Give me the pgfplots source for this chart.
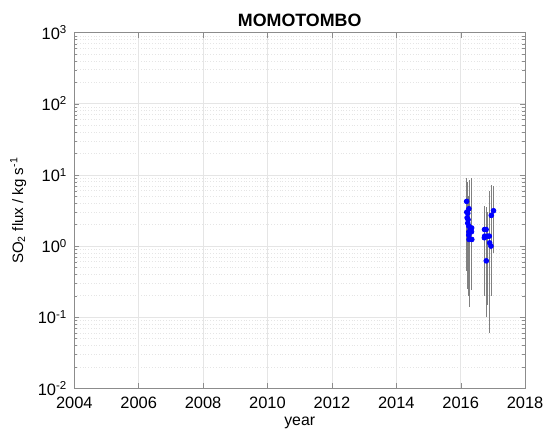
\documentclass[border=0pt]{standalone}
\usepackage{pgfplots}
\pgfplotsset{compat=1.18}
\usepackage{fontspec}
\setmainfont{Liberation Sans}
\definecolor{gridgray}{gray}{0.9}
\definecolor{boxgray}{gray}{0.55}
\definecolor{bargray}{gray}{0.5}
\begin{document}
\begin{tikzpicture}
\begin{axis}[
    name=ax,
    scale only axis,
    width=227.5pt, height=179.5pt,
    font=\fontsize{8.3}{9.5}\selectfont,
    xmin=2004, xmax=2018,
    ymode=log,
    ymin=0.01, ymax=1000,
    xtick={2004,2006,...,2018},
    /pgf/number format/1000 sep={},
    /pgf/number format/assume math mode=true,
    ytick={0.01,0.1,1,10,100,1000},
    yticklabels={10\textsuperscript{-2},10\textsuperscript{-1},10\textsuperscript{0},10\textsuperscript{1},10\textsuperscript{2},10\textsuperscript{3}},
    title={\textbf{MOMOTOMBO}},
    title style={font=\fontsize{9}{10}\selectfont, yshift=-6.5pt},
    xlabel={year},
    ylabel={SO\textsubscript{2} flux / kg s\textsuperscript{-1}},
    xlabel style={font=\fontsize{8}{9}\selectfont, yshift=3pt},
    ylabel style={font=\fontsize{7.6}{8.5}\selectfont, yshift=-1pt},
    tick align=inside,
    major tick length=2.5pt,
    minor tick length=1.5pt,
    axis line style={boxgray},
    tick style={boxgray},
    grid=both,
    xminorgrids=false,
    major grid style={gridgray, line width=0.4pt},
    minor grid style={gridgray, densely dotted, line width=0.4pt},
    xticklabel style={yshift=-1pt},
]
% uncertainty ranges (low, high) as vertical segments
\addplot[bargray, line width=0.3pt, unbounded coords=jump] coordinates {
(2016.185,0.45)(2016.185,9.0)(2016.185,nan)
(2016.255,0.35)(2016.255,8.5)(2016.255,nan)
(2016.19,0.30)(2016.19,7.0)(2016.19,nan)
(2016.22,0.40)(2016.22,8.0)(2016.22,nan)
(2016.20,0.30)(2016.20,6.0)(2016.20,nan)
(2016.23,0.25)(2016.23,5.0)(2016.23,nan)
(2016.22,0.25)(2016.22,6.0)(2016.22,nan)
(2016.255,0.20)(2016.255,5.0)(2016.255,nan)
(2016.34,0.24)(2016.34,9.0)(2016.34,nan)
(2016.255,0.14)(2016.255,5.0)(2016.255,nan)
(2016.335,0.25)(2016.335,6.0)(2016.335,nan)
(2016.25,0.20)(2016.25,4.0)(2016.25,nan)
(2016.26,0.15)(2016.26,4.0)(2016.26,nan)
(2016.345,0.30)(2016.345,4.0)(2016.345,nan)
(2016.74,0.20)(2016.74,3.7)(2016.74,nan)
(2016.79,0.10)(2016.79,3.5)(2016.79,nan)
(2016.745,0.20)(2016.745,3.5)(2016.745,nan)
(2016.84,0.15)(2016.84,3.0)(2016.84,nan)
(2016.735,0.25)(2016.735,3.5)(2016.735,nan)
(2016.795,0.12)(2016.795,3.0)(2016.795,nan)
(2016.89,0.063)(2016.89,5.9)(2016.89,nan)
(2016.90,0.06)(2016.90,6.0)(2016.90,nan)
(2016.94,0.20)(2016.94,3.0)(2016.94,nan)
(2016.95,0.78)(2016.95,7.2)(2016.95,nan)
(2017.02,0.80)(2017.02,7.0)(2017.02,nan)
};
\addplot[only marks, mark=*, mark size=1.2pt, blue, mark options={draw=blue, fill=blue}] coordinates {
(2016.185,4.25)(2016.255,3.35)(2016.19,3.0)(2016.22,2.9)(2016.20,2.5)
(2016.23,2.35)(2016.22,2.1)(2016.255,1.9)(2016.34,1.8)(2016.255,1.59)
(2016.335,1.59)(2016.25,1.43)(2016.26,1.24)(2016.345,1.24)
(2016.74,1.71)(2016.79,1.71)(2016.745,1.38)(2016.84,1.38)(2016.735,1.31)
(2016.795,0.62)
(2016.89,1.38)(2016.90,1.11)(2016.94,1.0)(2016.95,2.7)(2017.02,3.14)
};
\end{axis}
\path ([shift={(-37.5pt,-22.5pt)}]ax.south west) rectangle ([shift={(10pt,16.5pt)}]ax.north east);
\end{tikzpicture}
\end{document}
